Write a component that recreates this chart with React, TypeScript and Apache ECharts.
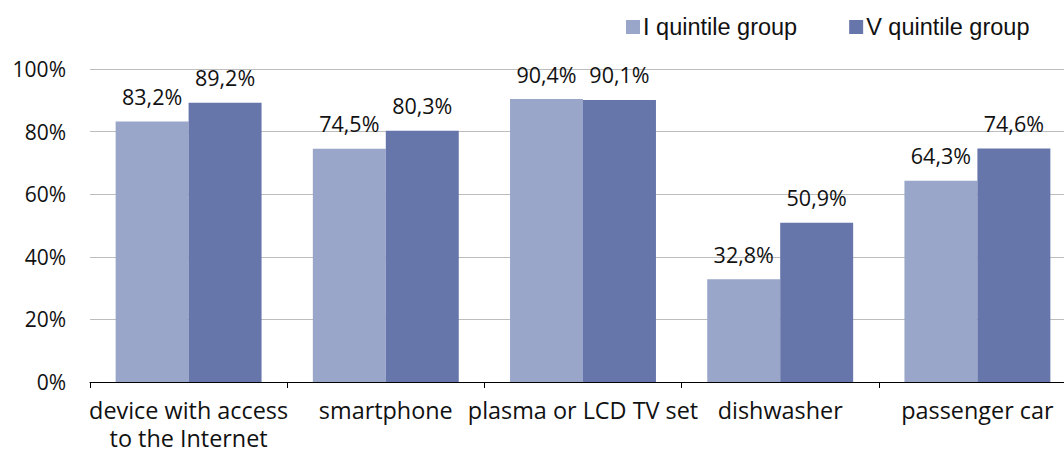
import React, { useEffect, useRef } from "react";
import * as echarts from "echarts";

const categories = ["device with access\nto the Internet", "smartphone", "plasma or LCD TV set", "dishwasher", "passenger car"];
const seriesNames = ["I quintile group", "V quintile group"];
const quintileI = [83.2, 74.5, 90.4, 32.8, 64.3];
const quintileV = [89.2, 80.3, 90.1, 50.9, 74.6];
const yTicks = [0, 20, 40, 60, 80, 100];

const FONT = "Open Sans";

export default function App() {
  const ref = useRef<HTMLDivElement>(null);
  useEffect(() => {
    if (!ref.current) return;
    const chart = echarts.init(ref.current, undefined, { renderer: "svg" });
    const fmt = (v: number) => v.toFixed(1).replace(".", ",") + "%";
    const labelCfg = {
      show: true,
      position: "top" as const,
      distance: 14,
      color: "#111",
      fontSize: 21.5,
      fontFamily: FONT,
      formatter: (p: any) => fmt(p.value),
    };
    chart.setOption({
      animation: false,
      legend: {
        top: 10,
        left: 621,
        itemWidth: 14,
        itemHeight: 14,
        itemGap: 52,
        icon: "rect",
        textStyle: { fontSize: 23.5, fontFamily: "Liberation Sans", color: "#111", padding: [0, 0, 0, -2] },
        data: seriesNames,
      },
      grid: { left: 90, right: 0, top: 69, bottom: 71, containLabel: false },
      xAxis: {
        type: "category",
        data: categories,
        axisLine: { lineStyle: { color: "#000", width: 1.2 } },
        axisTick: { show: true, length: 6, lineStyle: { color: "#000" } },
        axisLabel: { fontSize: 23.4, fontFamily: FONT, color: "#111", margin: 14, lineHeight: 28, interval: 0 },
      },
      yAxis: {
        type: "value",
        min: yTicks[0],
        max: yTicks[yTicks.length - 1],
        interval: 20,
        axisLabel: { fontSize: 21, fontFamily: FONT, color: "#111", margin: 24, formatter: (v: number) => v + "%" },
        splitLine: { lineStyle: { color: "#BDBDBD", width: 1 } },
        axisLine: { show: false },
        axisTick: { show: false },
      },
      series: [
        {
          name: seriesNames[0],
          type: "bar",
          data: quintileI,
          barGap: "0%",
          barCategoryGap: "26%",
          itemStyle: { color: "#99A6C9" },
          label: labelCfg,
        },
        {
          name: seriesNames[1],
          type: "bar",
          data: quintileV,
          itemStyle: { color: "#6676AB" },
          label: labelCfg,
        },
      ],
    });
    return () => chart.dispose();
  }, []);
  return (
    <div style={{ width: 1064, height: 453, position: "absolute", left: 0, top: 0, overflow: "hidden" }}>
      <div ref={ref} style={{ width: 1076, height: 453, position: "absolute", left: 0, top: 0 }} />
    </div>
  );
}
